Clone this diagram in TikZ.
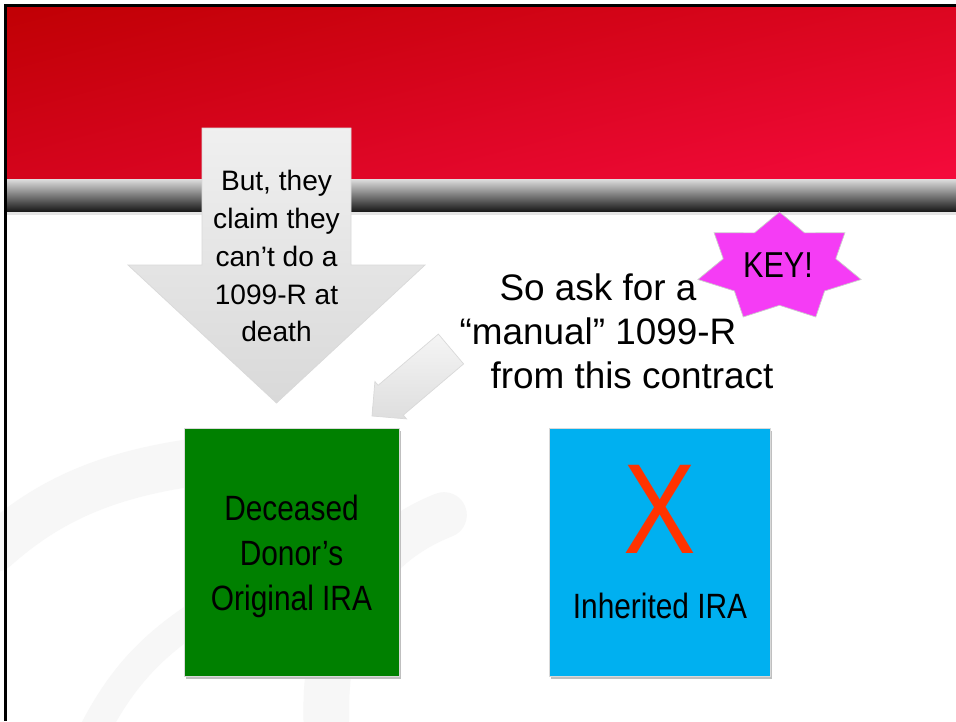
\documentclass[tikz,border=0pt]{standalone}
\usepackage{fontspec}
\setmainfont{Liberation Sans}
\newfontfamily\narrowsans[FakeStretch=0.85]{Liberation Sans}
\usetikzlibrary{calc,
  positioning,
  shadings,
  shapes.geometric
}
\definecolor{bandtl}{RGB}{192,0,4}
\definecolor{bandtr}{RGB}{220,6,32}
\definecolor{bandbl}{RGB}{212,4,28}
\definecolor{bandbr}{RGB}{245,10,60}
\definecolor{donorgreen}{RGB}{0,128,0}
\definecolor{inhblue}{RGB}{0,176,240}
\definecolor{crossred}{RGB}{255,51,0}
\definecolor{keymag}{RGB}{245,60,245}
\tikzstyle{swoosh} = [draw=black!3, line cap=round]
\tikzstyle{blockarrow} = [draw=black!15, line width=0.4, line join=miter]
\tikzstyle{irabox} = [rectangle, draw=black!15, line width=0.4,
  minimum height=4.96cm, inner sep=0pt]
\tikzstyle{keystar} = [star, star points=7, star point ratio=1.45,
  minimum size=2.21cm, xscale=1.514, fill=keymag, draw=black!20,
  line width=0.4, inner sep=0pt]

\begin{document}
\begin{tikzpicture}[x=0.02cm, y=-0.02cm]
  \useasboundingbox (0, 0) rectangle (956, 721);
  \fill[white] (0, 0) rectangle (956, 721);

  % faint background swooshes
  \draw[swoosh, line width=27] (-5, 548) .. controls (60, 490) and (130, 466) .. (250, 456);
  \draw[swoosh, line width=17] (92, 735) .. controls (120, 680) and (150, 645) .. (210, 608);
  \draw[swoosh, line width=26] (327, 735) .. controls (320, 625) and (360, 548) .. (444, 515);

  % title band
  \shade[upper left=bandtl, upper right=bandtr, lower left=bandbl, lower right=bandbr]
  (6, 6) rectangle (956, 179);
  \shade[top color=black!13, middle color=black!40, bottom color=black!92]
  (6, 179) rectangle (956, 212);
  \fill[black!10] (6, 212) rectangle (956, 215);

  % frame
  \draw[line width=1.9] (956, 5.7) -- (5.7, 5.7) -- (5.7, 721);

  % big arrow
  \shade[blockarrow, top color=black!6, bottom color=black!15]
  (202, 128) -- (351, 128) -- (351, 265) -- (425, 265) -- (276.5, 403)
  -- (128, 265) -- (202, 265) -- cycle;
  \path (276.5, 256) node[align=center, inner sep=0pt,
    font=\fontsize{16}{21.6}\selectfont] (butlabel)
    {But, they\\claim they\\can’t do a\\1099-R at\\death};

  % small arrow
  \shade[blockarrow, shading angle=-40, top color=black!4, bottom color=black!13]
  (463.6, 363.9) -- (438.4, 334.1) -- (378.1, 385.3) -- (374.9, 381.5)
  -- (372, 416) -- (406.5, 418.9) -- (403.3, 415.1) -- cycle;

  % ask text
  \path (598, 331) node[align=center, inner sep=0pt,
    font=\fontsize{21}{25}\selectfont] (asktext)
    {So ask for a\\“manual” 1099-R\\\hspace*{1.36cm}from this contract};

  % KEY star
  \path (779.5, 267.2) node[keystar] (keystar) {};
  \path (778, 265) node[inner sep=0pt,
    font=\narrowsans\fontsize{20.5}{22}\selectfont] (keylabel) {KEY!};

  % original IRA
  \fill[black!25] (185.5, 431) rectangle (400.5, 679);
  \path (291.5, 552) node[irabox, fill=donorgreen, minimum width=4.3cm] (donorbox) {};
  \path (291.5, 556) node[align=center, inner sep=0pt,
    font=\narrowsans\fontsize{20}{25.6}\selectfont] (donorlabel)
    {Deceased\\Donor’s\\Original IRA};

  % inherited IRA
  \fill[black!25] (550.5, 431) rectangle (771.5, 679);
  \path (659.5, 552) node[irabox, fill=inhblue, minimum width=4.42cm] (inhbox) {};
  \path (660, 509) node[crossred, inner sep=0pt,
    font=\narrowsans\fontsize{73}{73}\selectfont] (cross) {X};
  \path (660, 606) node[inner sep=0pt,
    font=\narrowsans\fontsize{20}{24}\selectfont] (inhlabel) {Inherited IRA};
\end{tikzpicture}
\end{document}
